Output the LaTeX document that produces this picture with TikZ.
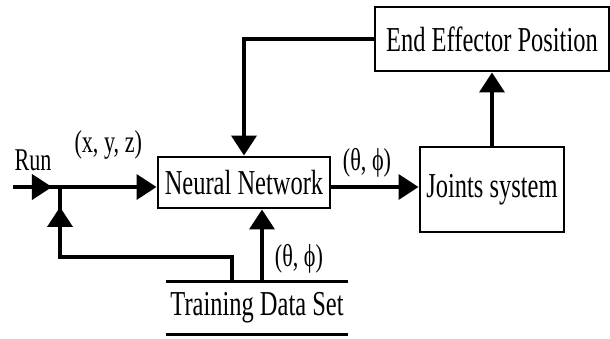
\documentclass[tikz,border=0pt]{standalone}
\usepackage{fontspec}
\setmainfont{Liberation Serif}[FakeStretch=0.7]
\usetikzlibrary{arrows.meta,positioning,calc}
\tikzset{block/.style={rectangle,draw,line width=1.7pt,inner sep=0pt,font=\fontsize{19.9}{22}\selectfont},flow/.style={-{Triangle[length=4mm,width=5mm]},line width=2.2pt},link/.style={line width=2.2pt},tag/.style={font=\fontsize{18}{20}\selectfont,inner sep=0pt}}

\begin{document}
\begin{tikzpicture}[x=1cm,y=1cm]
\useasboundingbox (0,0) rectangle (12.2,6.78);
\node[block,minimum width=4.68cm,minimum height=1.28cm] (eep) at (9.84,6.0) {End Effector Position};
\node[block,minimum width=2.88cm,minimum height=1.7cm] (js) at (9.84,2.99) {Joints system};
\node[block,minimum width=3.44cm,minimum height=1.02cm] (nn) at (4.88,3.13) {Neural Network};
\node[block,draw=none,minimum width=3.6cm,minimum height=1cm] (tds) at (5.14,0.62) {Training Data Set};
\draw[link] (tds.north west)--(tds.north east);
\draw[link] (tds.south west)--(tds.south east);
\coordinate (in) at (0.26,3.04);
\coordinate (jn) at (1.2,3.04);
\coordinate (fb) at (4.64,1.12);
\coordinate (fbc) at (1.2,1.64);
\coordinate (ts) at (5.24,1.12);
\node[tag] (run) at (0.66,3.58) {Run};
% input line, arrow heads sit short of the junction
\draw[link] (in)--(jn);
\draw[flow,shorten >=0.16cm] (in)--(jn);
\draw[flow] (jn)--node[tag,above=0.52cm] (xyz) {(x, y, z)}(jn -| nn.west);
\draw[link] (fb) |- (fbc)--(jn);
\draw[flow,shorten >=0.4cm] (fb) |- (fbc)--(jn);
\draw[flow] (ts)--node[tag,right=0.22cm,pos=0.33] (ang2) {(θ, ϕ)}(ts |- nn.south);
\draw[flow] (nn.east |- jn)--node[tag,above=0.16cm,xshift=-0.16cm] (ang1) {(θ, ϕ)}(js.west |- jn);
\draw[flow] (js.north)--(eep.south);
\draw[flow] (eep.west) -| (nn.north);
\end{tikzpicture}
\end{document}
